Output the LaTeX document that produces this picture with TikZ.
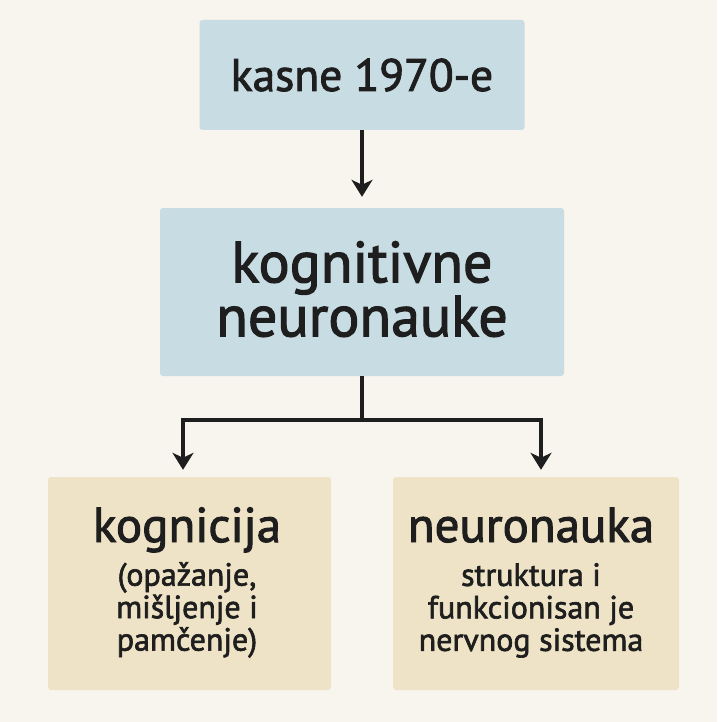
\documentclass[tikz,border=0pt]{standalone}
\usepackage{fontspec}
\setmainfont{PT Sans}[FakeBold=2]
\usetikzlibrary{arrows.meta}
\definecolor{bg}{HTML}{F8F5EE}
\definecolor{bluebox}{HTML}{C8DCE3}
\definecolor{sandbox}{HTML}{EEE3C6}
\definecolor{ink}{HTML}{1E1E1E}
\tikzset{
  box/.style={rounded corners=3pt, inner sep=0pt, text=ink, align=center},
  txt/.style={text=ink, align=center, inner sep=0pt},
  conn/.style={draw=ink, line width=3.8pt, -{Stealth[length=17pt,width=21pt,inset=5pt]}},
  plainconn/.style={draw=ink, line width=3.8pt},
}
\begin{document}
\begin{tikzpicture}[x=1pt,y=-1pt]
\fill[bg] (0,0) rectangle (717,722);
\useasboundingbox (0,0) rectangle (717,722);
\node[box, fill=bluebox, minimum width=325pt, minimum height=110pt] (top) at (362,75) {};
\node[txt, anchor=base, font=\fontsize{45.5}{50}\selectfont] (toptext) at (362,91) {kasne 1970-e};
\node[box, fill=bluebox, minimum width=404pt, minimum height=168pt] (mid) at (362,292) {};
\node[txt, anchor=north, font=\fontsize{58}{54}\selectfont] (midtext) at (362,241) {kognitivne\\ neuronauke};
\node[box, fill=sandbox, minimum width=283pt, minimum height=213pt] (left) at (189.5,583.5) {};
\node[box, fill=sandbox, minimum width=286pt, minimum height=213pt] (right) at (536,583.5) {};
\node[txt, anchor=base, font=\fontsize{49}{52}\selectfont] (lt) at (187,542) {kognicija};
\node[txt, anchor=north, font=\fontsize{32}{32.5}\selectfont] (ls) at (187,562) {(opažanje,\\ mišljenje i\\ pamčenje)};
\node[txt, anchor=base, font=\fontsize{49}{52}\selectfont] (rt) at (531,542) {neuronauka};
\node[txt, anchor=north, font=\fontsize{32}{32.5}\selectfont] (rs) at (531,563) {struktura i\\ funkcionisan je\\ nervnog sistema};
\coordinate (j) at (362,420);
\coordinate (jl) at (183,420);
\coordinate (jr) at (541,420);
\draw[conn, shorten >=11pt] (top) -- (mid);
\draw[plainconn] (mid) -- (j);
\draw[plainconn, line cap=rect] (jl) -- (jr);
\draw[conn, shorten >=7pt] (jl) -- (jl |- left.north);
\draw[conn, shorten >=7pt] (jr) -- (jr |- right.north);
\end{tikzpicture}
\end{document}
